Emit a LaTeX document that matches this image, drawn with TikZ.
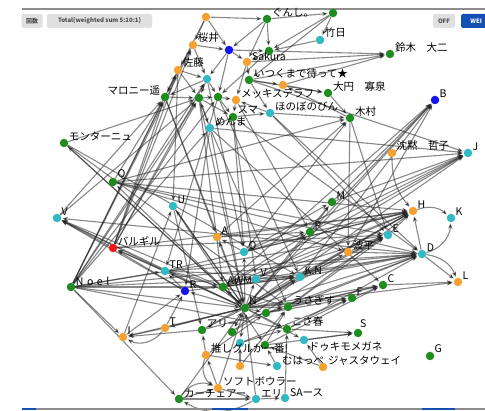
\documentclass[tikz,border=0pt]{standalone}
\usepackage{fontspec}
\setmainfont{Noto Sans CJK JP}
\usetikzlibrary{arrows.meta,backgrounds}

\definecolor{gr}{RGB}{30,140,30}
\definecolor{og}{RGB}{245,160,50}
\definecolor{cy}{RGB}{50,185,195}
\definecolor{bl}{RGB}{20,20,240}
\definecolor{rd}{RGB}{250,20,30}
\definecolor{btnblue}{RGB}{20,80,180}

\tikzset{
  vtx/.style={circle, fill=#1, inner sep=0pt, minimum size=8.5pt},
  lab/.style={font=\fontsize{10.5}{10.5}\selectfont, inner sep=0.5pt},
  edge/.style={draw=black!85, draw opacity=0.55, line width=1.1pt,
    -{Stealth[length=5.5pt,width=4.5pt]}, shorten >=1pt},
  btn/.style={rounded corners=1.5pt, fill=black!12, text=black!70,
    font=\bfseries\fontsize{6}{6}\selectfont, inner sep=0pt},
}

\begin{document}
\begin{tikzpicture}[x=1pt,y=-1pt]
	\useasboundingbox (0,0) rectangle (485,411);
	\begin{scope}
		\clip (0,0) rectangle (485,411);
		% bars
		\draw[black!45, line width=2pt] (22,9) -- (485,9);
		\node[btn, minimum width=21pt, minimum height=14pt] (cnt) at (32,21) {回数};
		\node[btn, minimum width=105pt, minimum height=14pt] (tot) at (99.5,21) {Total(weighted sum 5:10:1)};
		\node[btn, minimum width=22pt, minimum height=14pt] (off) at (444,21) {OFF};
		\node[btn, fill=btnblue, text=white, minimum width=30pt, minimum height=14pt, anchor=west] (we) at (461,21) {WEI};
		\draw[black!45, line width=2pt] (22,409) -- (485,409);
		\draw[btnblue, line width=2pt] (22,409) -- (36,409);
		\draw[btnblue, line width=2pt] (212,409) -- (248,409);
		\draw[btnblue, line width=2pt] (422,409) -- (455,409);
	\end{scope}

	% top cluster
	\node[vtx=og] (t1) at (206,17) {};
	\node[vtx=gr, label={[lab]15:ぐんし。}] (t2) at (267,19) {};
	\node[vtx=gr] (t3) at (333,13) {};
	\node[vtx=og, label={[lab]20:桜井}] (sakurai) at (193,45) {};
	\node[vtx=bl] (tb) at (229,50) {};
	\node[vtx=gr] (t5) at (269,51) {};
	\node[vtx=cy, label={[lab]20:竹日}] (tk) at (320,40) {};
	\node[vtx=og, label={[lab]15:Sakura}] (sak) at (247,62) {};
	\node[vtx=og, label={[lab]20:佐藤}] (sato) at (178,70) {};
	\node[vtx=cy] (c1) at (207,79) {};
	\node[vtx=gr, label={[lab]15:いつくまで待って★}] (itsu) at (249,80) {};
	\node[vtx=og] (o2) at (283,85) {};
	\node[vtx=gr, label={[lab]15:大円　寡泉}] (daien) at (328,93) {};
	\node[vtx=gr, label={[lab]165:マロニー遥}] (maro) at (165,97) {};
	\node[vtx=gr] (g2) at (199,98) {};
	\node[vtx=gr] (g3) at (218,97) {};
	\node[vtx=og, label={[lab]15:メッキステラフ}] (mekki) at (236,100) {};
	\node[vtx=cy, label={[lab]15:ほのぼのびん}] (hono) at (270,113) {};
	\node[vtx=gr, label={[lab]30:スマ}] (suma) at (233,117) {};
	\node[vtx=cy, label={[lab]15:めんま}] (menma) at (210,128) {};
	\node[vtx=gr, label={[lab]15:木村}] (kimura) at (350,118) {};
	\node[vtx=gr, label={[lab]15:鈴木　大二}] (suzuki) at (390,54) {};
	\node[vtx=bl, label={[lab]30:B}] (B) at (435,100) {};

	% middle
	\node[vtx=gr, label={[lab]15:モンターニュ}] (monta) at (64,143) {};
	\node[vtx=og, label={[lab]25:沈黙　哲子}] (chinmoku) at (392,153) {};
	\node[vtx=cy, label={[lab]25:J}] (J) at (468,153) {};
	\node[vtx=gr, label={[lab]25:Q}] (Q) at (113,182) {};
	\node[vtx=gr, label={[lab]25:M}] (M) at (332,202) {};
	\node[vtx=cy, label={[lab]25:U}] (U) at (173,206) {};
	\node[vtx=og, label={[lab]25:H}] (H) at (413,211) {};
	\node[vtx=cy, label={[lab]25:V}] (V) at (57,218) {};
	\node[vtx=cy, label={[lab]25:K}] (K) at (451,218) {};
	\node[vtx=gr, label={[lab]25:P}] (P) at (310,232) {};
	\node[vtx=cy, label={[lab]25:E}] (E) at (388,235) {};
	\node[vtx=og, label={[lab]25:A}] (A) at (217,237) {};
	\node[vtx=rd, label={[lab]15:バルギル}] (baru) at (113,248) {};
	\node[vtx=cy, label={[lab]25:O}] (O) at (244,252) {};
	\node[vtx=og, label={[lab]15:波平}] (namihei) at (348,252) {};
	\node[vtx=cy, label={[lab]20:D}] (D) at (422,254) {};
	\node[vtx=cy, label={[lab]25:TR}] (TR) at (165,271) {};
	\node[vtx=cy, label={[lab]25:V}] (V2) at (256,279) {};
	\node[vtx=cy, label={[lab]25:K.N}] (KN) at (300,277) {};
	\node[vtx=og, label={[lab]25:L}] (L) at (458,282) {};
	\node[vtx=gr, label={[lab]25:C}] (C) at (383,285) {};
	\node[vtx=gr, label={[lab]15:N\,\,o\,\,e\,\,l}] (noel) at (71,287) {};
	\node[vtx=bl, label={[lab]30:R}] (R) at (185,291) {};
	\node[vtx=gr, label={[lab]25:AWM}] (AW) at (223,287) {};
	\node[vtx=gr, label={[lab]25:F}] (F) at (352,298) {};

	% bottom cluster
	\node[vtx=gr, label={[lab]40:N}] (N) at (245,308) {};
	\node[vtx=gr] (g4) at (266,313) {};
	\node[vtx=gr, label={[lab]20:うさぎす}] (usagi) at (288,307) {};
	\node[vtx=og, label={[lab]30:T}] (T) at (165,328) {};
	\node[vtx=og, label={[lab]30:I}] (I) at (123,337) {};
	\node[vtx=gr, label={[lab]20:アリー}] (ari) at (202,330) {};
	\node[vtx=gr] (g5) at (232,332) {};
	\node[vtx=gr, label={[lab]20:こさ春}] (haru) at (287,329) {};
	\node[vtx=gr, label={[lab]70:S}] (S) at (358,333) {};
	\node[vtx=cy] (c2) at (240,343) {};
	\node[vtx=cy, label={[lab]-20:ドゥキモメガネ}] (c3) at (304,340) {};
	\node[vtx=gr] (g6) at (265,345) {};
	\node[vtx=gr, label={[lab]30:G}] (G) at (430,356) {};
	\node[vtx=og, label={[lab]15:推しグルか一番!}] (oshi) at (206,355) {};
	\node[vtx=og] (o3) at (240,366) {};
	\node[vtx=cy, label={[lab]10:むはっぺ}] (c4) at (277,366) {};
	\node[vtx=og, label={[lab]10:ジャスタウェイ}] (justa) at (323,367) {};
	\node[vtx=og, label={[lab]15:ソフトボウラー}] (soft) at (218,388) {};
	\node[vtx=gr, label={[lab]10:カーチェアー}] (car) at (179,399) {};
	\node[vtx=cy, label={[lab]10:エリ}] (c5) at (256,399) {};
	\node[vtx=cy, label={[lab]10:SAース}] (c6) at (285,398) {};

	\begin{scope}[on background layer]
		% top cluster links
		\foreach \a/\b in {t1/sakurai, t1/t2, t1/tb, sakurai/tb, sakurai/sato, tb/t5, t2/t3,
			t2/tb, t3/itsu, t3/t5, tk/t5, sak/itsu, sato/c1, c1/maro, c1/g2, g2/g3, g3/mekki,
			mekki/suma, suma/menma, hono/kimura, itsu/daien, o2/daien, daien/kimura, t5/sak,
			sak/mekki, itsu/o2, tb/c1, maro/g2, g3/suma, menma/g2, t2/sak, sakurai/c1,
			t5/suzuki, itsu/suzuki, sak/suzuki, o2/suzuki, hono/mekki, suma/hono, kimura/o2,
			t3/tk, t1/maro, sato/maro, tb/g3, t5/g3, itsu/hono, g2/suma, sato/g2, tb/sak,
			c1/g3, g2/menma, t2/t5}
			\draw[edge] (\a) -- (\b);
		% top to the rest
		\foreach \a/\b in {noel/maro, noel/g2, noel/sato, noel/c1, noel/g3, noel/menma,
			noel/sakurai, baru/sakurai, baru/sato, baru/g2, baru/c1, baru/maro, V/maro, V/g2,
			Q/maro, Q/kimura, monta/g2, maro/N, menma/N, menma/usagi, g3/KN, mekki/P, hono/E,
			kimura/E, kimura/namihei, suma/D, itsu/J, menma/J, O/kimura, A/kimura, g2/AW,
			c1/O, maro/A, sato/U, menma/R, g3/TR, suma/O, menma/C, hono/D, g2/N, suma/V2}
			\draw[edge] (\a) -- (\b);
		% centre
		\foreach \a/\b in {N/O, N/AW, N/V2, N/KN, N/usagi, N/g4, N/haru, N/ari, N/g5, N/c2,
			N/c3, N/TR, N/R, N/T, N/I, N/P, N/E, N/D, N/H, N/J, N/C, N/F, N/L, N/namihei,
			N/M, N/V, N/baru, N/Q, N/monta, N/U, N/A, N/B, AW/P, AW/E, AW/D, AW/H, AW/J,
			AW/V, AW/B, R/TR, TR/baru, R/baru, TR/V, baru/V, R/V, O/A, O/P, O/J, O/M, O/H,
			KN/D, KN/E, KN/H, KN/B, usagi/C, usagi/D, usagi/H, g4/F, haru/F, haru/S, c3/S,
			g6/S, justa/c3, c4/g6, o3/c2, oshi/ari, soft/oshi, car/soft, c5/c6, soft/c5,
			car/c5, oshi/c4, T/I, ari/I, noel/I, noel/car, I/U, noel/N, noel/haru, noel/AW,
			noel/TR, noel/KN, Q/D, Q/H, Q/J, Q/E, Q/namihei, monta/N, monta/usagi, monta/KN,
			U/N, U/g6, U/ari, A/P, A/H, P/M, P/J, P/H, P/B, M/B, M/J, namihei/D, namihei/E,
			namihei/B, E/H, D/L, C/L, F/C, D/H, V2/J, V2/D, g5/E, g4/C, haru/D, c2/F, g6/C,
			ari/H, oshi/g4, o3/usagi, soft/N, car/N, c5/N, c6/haru, justa/g6, I/R, T/R,
			AW/KN, AW/usagi, TR/AW, TR/KN, TR/D, TR/H, noel/D, noel/E, D/V, baru/H, baru/E,
			g4/D, g5/KN, ari/usagi, c2/haru, g6/usagi, R/KN, T/N, V2/H, usagi/E}
			\draw[edge] (\a) -- (\b);
		% curved ones
		\draw[edge] (chinmoku) to[bend right=20] (H);
		\draw[edge] (H) to[bend left=30] (K);
		\draw[edge] (D) to[bend right=35] (K);
		\draw[edge] (D) to[bend left=30] (L);
		\draw[edge] (car) to[bend left=40] (soft);
		\draw[edge] (T) to[bend left=40] (I);
		\draw[edge] (oshi) to[bend right=40] (soft);
		\draw[edge] (TR) to[bend left=15] (N);
		\draw[edge] (c5) to[bend left=30] (car);
	\end{scope}
\end{tikzpicture}
\end{document}
